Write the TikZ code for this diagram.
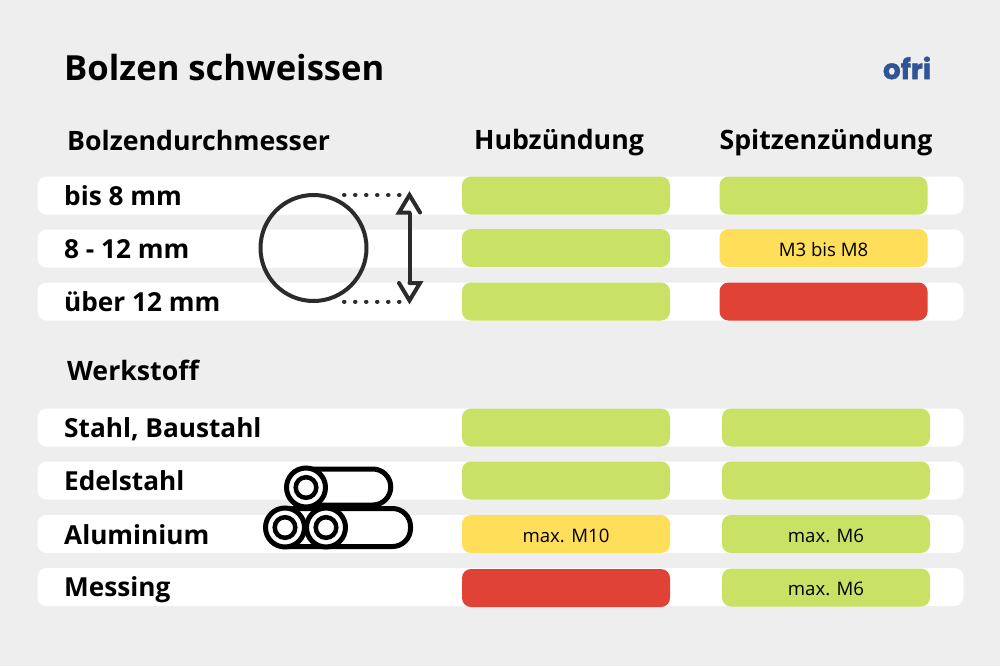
\documentclass[tikz,border=0pt]{standalone}
\usepackage{fontspec}
\setmainfont{Open Sans}
\newfontfamily\logofont[FakeBold=1.5]{Poppins}
\definecolor{pagegray}{HTML}{EEEEEE}
\definecolor{okgreen}{HTML}{C9E265}
\definecolor{midyellow}{HTML}{FFDE59}
\definecolor{badred}{HTML}{E04236}
\definecolor{ofriblue}{HTML}{2F5597}
\definecolor{icondark}{HTML}{2B2B2B}
\tikzset{
  rowbar/.style={fill=white, rounded corners=9pt, minimum width=926pt, minimum height=38pt, inner sep=0pt},
  cellbar/.style={rounded corners=9pt, minimum width=208pt, minimum height=38pt, inner sep=0pt, text height=16pt, text depth=0pt, font=\fontsize{18.6}{18.6}\selectfont},
  rowlabel/.style={anchor=base west, inner sep=0pt, font=\fontsize{26.2}{26.2}\selectfont\bfseries},
  headlabel/.style={anchor=base, inner sep=0pt, font=\fontsize{26.7}{26.7}\selectfont\bfseries}
}
\begin{document}
\begin{tikzpicture}[x=1pt, y=-1pt]
\useasboundingbox[fill=pagegray] (0,0) rectangle (1000,666);
% titles
\node[anchor=base west, inner sep=0pt, font=\fontsize{34.6}{34.6}\selectfont\bfseries] (title) at (64,80.5) {Bolzen schweissen};
\node[headlabel, anchor=base west] (headDurch) at (67,150.5) {Bolzendurchmesser};
\node[headlabel] (headHub) at (559,149.5) {Hubzündung};
\node[headlabel] (headSpitze) at (826,149.5) {Spitzenzündung};
\node[headlabel, anchor=base west] (headWerk) at (67,380) {Werkstoff};
\node[inner sep=0pt, text=ofriblue, font=\fontsize{28}{28}\selectfont\logofont\bfseries] (logo) at (907,68) {ofri};
% rows
\foreach \rowname/\rowy/\rowbase/\rowtext in {rowA/195.5/205/bis 8 mm, rowB/248.5/258/8 - 12 mm, rowC/301.5/311/über 12 mm,
  rowD/427.5/437.5/{Stahl, Baustahl}, rowE/480.5/490.5/Edelstahl, rowF/534/544/Aluminium, rowG/587/596/Messing}{
  \node[rowbar] (\rowname) at (500.5,\rowy) {};
  \node[rowlabel] (\rowname label) at (64,\rowbase) {\rowtext};
}
% cells
\node[cellbar, fill=okgreen] (cellA1) at (566,195.5) {};
\node[cellbar, fill=okgreen] (cellB1) at (566,248) {};
\node[cellbar, fill=okgreen] (cellC1) at (566,301.5) {};
\node[cellbar, fill=okgreen] (cellA2) at (823.5,195.5) {};
\node[cellbar, fill=midyellow] (cellB2) at (823.5,248) {M3 bis M8};
\node[cellbar, fill=badred] (cellC2) at (823.5,301.5) {};
\node[cellbar, fill=okgreen] (cellD1) at (566,427.5) {};
\node[cellbar, fill=okgreen] (cellE1) at (566,480.5) {};
\node[cellbar, fill=midyellow] (cellF1) at (566,534) {max. M10};
\node[cellbar, fill=badred] (cellG1) at (566,588) {};
\node[cellbar, fill=okgreen] (cellD2) at (826,427.5) {};
\node[cellbar, fill=okgreen] (cellE2) at (826,480.5) {};
\node[cellbar, fill=okgreen] (cellF2) at (826,534) {max. M6};
\node[cellbar, fill=okgreen] (cellG2) at (826,587.5) {max. M6};
% circle icon
\draw[color=icondark, line width=4pt] (313.5,248) circle (53pt);
\draw[color=icondark, line width=4pt, line cap=round, dash pattern=on 0.5pt off 10.5pt] (344,195) -- (402,195);
\draw[color=icondark, line width=4pt, line cap=round, dash pattern=on 0.5pt off 10.5pt] (344,301.5) -- (402,301.5);
\draw[color=icondark, line width=4pt, line join=miter, line cap=round] (409.5,212.5) -- (399,212.5) -- (409.5,195) -- (420,212.5);
\draw[color=icondark, line width=4pt] (409.5,212.5) -- (409.5,283);
\draw[color=icondark, line width=4pt, line join=miter, line cap=round] (409.5,283) -- (420,283) -- (409.5,300.5) -- (399,283);
% pipes icon
\begin{scope}[color=black, line width=5pt]
\draw[fill=white, rounded corners=18pt] (290,469) rectangle (390.75,505);
\draw[fill=white, rounded corners=18pt] (270,508.5) rectangle (410.5,546.5);
\foreach \pipex/\pipey in {306/487.5, 285/527.5, 326/527.5}{
  \draw[fill=white] (\pipex,\pipey) circle (19.5pt);
  \draw[fill=white, line width=4.5pt] (\pipex,\pipey) circle (10.3pt);
}
\end{scope}
\end{tikzpicture}
\end{document}
